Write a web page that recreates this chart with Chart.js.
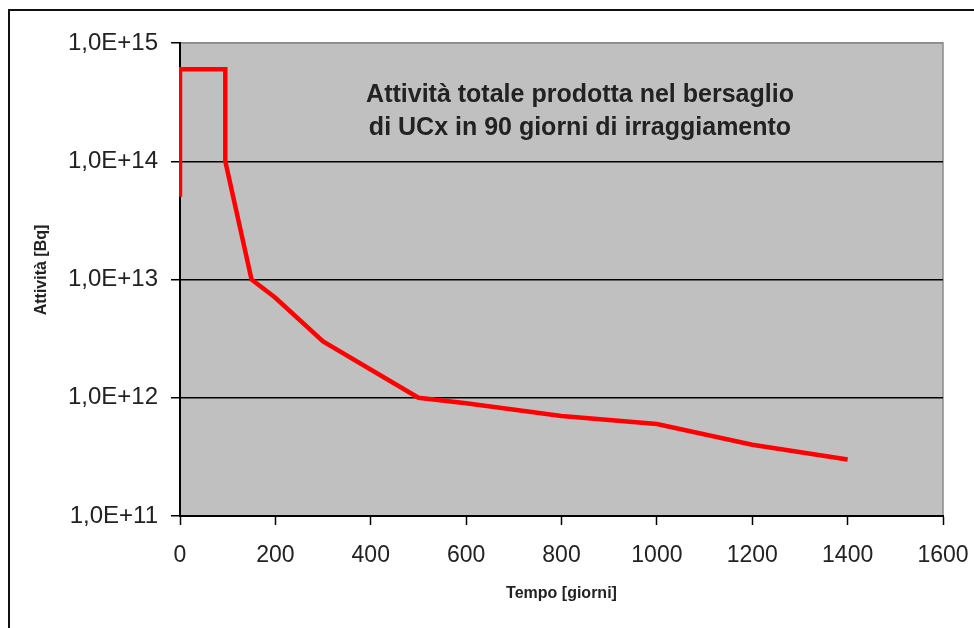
<!DOCTYPE html>
<html lang="it">
<head>
    <meta charset="UTF-8">
    <title>Attività totale prodotta nel bersaglio</title>
    <style>
        body {
            margin: 0;
            background-color: #fff;
            overflow: hidden;
        }

        #frame {
            position: absolute;
            left: 8px;
            top: 9px;
            width: 1100px;
            height: 800px;
            border-left: 2px solid #111;
            border-top: 2px solid #111;
        }

        #activity-chart {
            position: absolute;
            left: 0;
            top: 0;
        }
    </style>
</head>
<body>
    <div id="frame"></div>
    <canvas id="activity-chart" width="974" height="628"></canvas>

    <script src="https://cdn.jsdelivr.net/npm/chart.js"></script>
    <script>
        // tempo di decadimento [giorni] e attività [Bq]
        const days = [0, 0, 95, 95, 150, 200, 300, 500, 600, 800, 1000, 1200, 1400];
        const activity = [5e13, 6e14, 6e14, 1e14, 1e13, 7e12, 3e12, 1e12, 9e11, 7e11, 6e11, 4e11, 3e11];

        const yTicks = [1e11, 1e12, 1e13, 1e14, 1e15];
        const titleLines = ['Attività totale prodotta nel bersaglio', 'di UCx in 90 giorni di irraggiamento'];

        const fontFamily = "'Liberation Sans', Arial, sans-serif";

        // sfondo grigio dell'area del grafico
        const plotBackground = {
            id: 'plotBackground',
            beforeDraw(chart) {
                const { ctx, chartArea: a } = chart;
                ctx.save();
                ctx.fillStyle = '#c0c0c0';
                ctx.fillRect(a.left, a.top, a.right - a.left, a.bottom - a.top);
                ctx.strokeStyle = '#8c8c8c';
                ctx.lineWidth = 1.5;
                ctx.beginPath();
                ctx.moveTo(a.left, a.top);
                ctx.lineTo(a.right, a.top);
                ctx.lineTo(a.right, a.bottom);
                ctx.stroke();
                ctx.restore();
            }
        };

        // titolo dentro l'area del grafico + titolo asse y
        const innerTitle = {
            id: 'innerTitle',
            afterDraw(chart) {
                const { ctx } = chart;
                ctx.save();
                ctx.fillStyle = '#222';
                ctx.font = 'bold 25px ' + fontFamily;
                ctx.textAlign = 'center';
                ctx.textBaseline = 'alphabetic';
                titleLines.forEach((line, i) => {
                    ctx.fillText(line, 580, 102 + i * 33);
                });

                ctx.translate(42, 270);
                ctx.rotate(-Math.PI / 2);
                ctx.font = 'bold 16px ' + fontFamily;
                ctx.textBaseline = 'middle';
                ctx.fillText('Attività [Bq]', 0, 0);
                ctx.restore();
            }
        };

        const ctx = document.getElementById('activity-chart').getContext('2d');

        new Chart(ctx, {
            type: 'line',
            data: {
                datasets: [{
                    data: days.map((d, i) => ({ x: d, y: activity[i] })),
                    borderColor: '#ff0000',
                    borderWidth: 4.5,
                    pointRadius: 0,
                    tension: 0,
                    fill: false,
                    clip: { left: 1, top: 5, right: 5, bottom: 5 }
                }]
            },
            options: {
                responsive: false,
                animation: false,
                layout: {
                    padding: { top: 43, right: 31, bottom: 0, left: 0 }
                },
                plugins: {
                    legend: { display: false },
                    tooltip: { enabled: false }
                },
                scales: {
                    x: {
                        type: 'linear',
                        min: 0,
                        max: 1600,
                        afterFit: scale => {
                            scale.height = 112;
                            scale.paddingLeft = 0;
                            scale.paddingRight = 0;
                        },
                        ticks: {
                            stepSize: 200,
                            padding: 17,
                            color: '#222',
                            font: { family: fontFamily, size: 23 },
                            maxRotation: 0,
                            callback: v => String(v)
                        },
                        grid: {
                            drawOnChartArea: false,
                            tickLength: 9,
                            tickWidth: 1.5,
                            tickColor: '#000'
                        },
                        border: { color: '#000', width: 2 },
                        title: {
                            display: true,
                            text: 'Tempo [giorni]',
                            color: '#222',
                            font: { family: fontFamily, size: 16, weight: 'bold' },
                            padding: { top: 0, bottom: 25 }
                        }
                    },
                    y: {
                        type: 'logarithmic',
                        min: 1e11,
                        max: 1e15,
                        afterFit: scale => {
                            scale.width = 180;
                            scale.paddingTop = 0;
                            scale.paddingBottom = 0;
                        },
                        afterBuildTicks: scale => {
                            scale.ticks = yTicks.map(v => ({ value: v }));
                        },
                        ticks: {
                            padding: 13,
                            color: '#222',
                            font: { family: fontFamily, size: 24 },
                            callback: v => '1,0E+' + Math.round(Math.log10(v))
                        },
                        grid: {
                            color: c => (c.tick && c.tick.value === 1e15) ? '#8c8c8c' : '#000',
                            lineWidth: 1.5,
                            tickLength: 9,
                            tickWidth: 1.5,
                            tickColor: '#000'
                        },
                        border: { color: '#000', width: 2 }
                    }
                }
            },
            plugins: [plotBackground, innerTitle]
        });
    </script>
</body>
</html>
